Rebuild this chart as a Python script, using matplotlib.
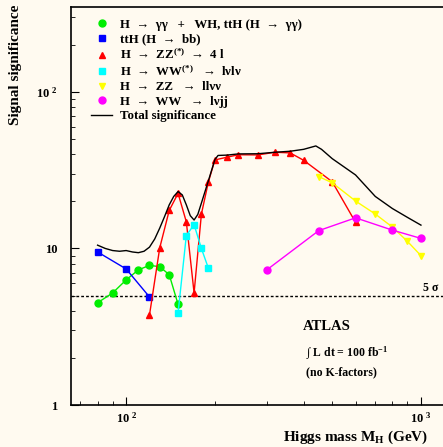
import matplotlib
matplotlib.use("Agg")
import matplotlib.pyplot as plt
from matplotlib.ticker import FixedLocator, NullFormatter

plt.rcParams['font.family'] = ['Liberation Serif', 'DejaVu Serif']
plt.rcParams['font.weight'] = 'bold'
plt.rcParams['mathtext.fontset'] = 'custom'
plt.rcParams['mathtext.rm'] = 'Liberation Serif:bold'
plt.rcParams['mathtext.it'] = 'Liberation Serif:bold'
plt.rcParams['mathtext.bf'] = 'Liberation Serif:bold'

# data (Higgs mass in GeV, signal significance)
m_gg = [80, 90, 100, 110, 120, 130, 140, 150]
s_gg = [4.5, 5.2, 6.3, 7.3, 7.8, 7.65, 6.8, 4.4]

m_tth = [80, 100, 120]
s_tth = [9.5, 7.4, 4.9]

m_zz4l = [120, 130, 140, 150, 160, 170, 180, 190, 200, 220, 240, 280, 320, 360, 400, 500, 600]
s_zz4l = [3.76, 10.1, 17.5, 22.5, 14.8, 5.2, 16.6, 26.5, 36.8, 38.3, 39.7, 39.6, 41.2, 40.8, 36.6, 26.7, 14.7]

m_ww = [150, 160, 170, 180, 190]
s_ww = [3.87, 12.1, 14.2, 10.0, 7.5]

m_llnn = [450, 500, 600, 700, 800, 900, 1000]
s_llnn = [28.8, 26.3, 20.1, 16.6, 13.7, 11.1, 9.0]

m_lnjj = [300, 450, 600, 800, 1000]
s_lnjj = [7.3, 13.0, 15.7, 13.1, 11.6]

m_tot = [80, 85, 90, 95, 100, 105, 110, 115, 120, 125, 130, 135, 140, 145, 150, 155, 160,
         165, 170, 175, 180, 190, 200, 205, 220, 240, 280, 320, 360, 400, 440, 460, 500,
         600, 700, 800, 900, 1000]
s_tot = [10.5, 10.0, 9.7, 9.6, 9.7, 9.5, 9.4, 9.6, 10.2, 11.5, 13.5, 16.0, 19.0, 21.5, 23.1, 22.0, 19.0,
         16.2, 15.2, 16.5, 19.5, 27.0, 37.0, 39.3, 39.5, 40.2, 40.3, 41.2, 41.8, 43.0, 45.2, 43.0, 37.5,
         29.5, 21.5, 18.0, 15.8, 14.1]

bg = '#fffaf0'
fig = plt.figure(figsize=(4.43, 4.47), dpi=100, facecolor=bg)
ax = fig.add_axes([71 / 443, 42 / 447, 372 / 443, 398 / 447], facecolor=bg)

ax.set_xscale('log')
ax.set_yscale('log')
ax.set_xlim(65, 1188)
ax.set_ylim(1, 349)

ax.axhline(5, color='black', lw=1.0, ls=(0, (2, 1.5)))
ax.text(1016, 5.1, r'5 σ', fontsize=8.5, ha='left', va='bottom')

ax.plot(m_gg, s_gg, '-o', color='#00ee00', ms=5, lw=1.0,
        label='H  →  γγ   +   WH, ttH (H  →  γγ)')
ax.plot(m_tth, s_tth, '-s', color='#0000ff', ms=4.5, lw=1.0,
        label='ttH (H  →  bb)')
ax.plot(m_zz4l, s_zz4l, '-^', color='#ff0000', ms=4.5, lw=1.0,
        label=r'H  →  ZZ$^{(*)}$  →  4 l')
ax.plot(m_ww, s_ww, '-s', color='#00ffff', ms=5, lw=1.0,
        label=r'H  →  WW$^{(*)}$   →  lνlν')
ax.plot(m_llnn, s_llnn, '-v', color='#ffff00', ms=4.5, lw=1.0,
        label='H  →  ZZ   →  llνν')
ax.plot(m_lnjj, s_lnjj, '-o', color='#ff00ff', ms=5, lw=1.0,
        label='H  →  WW   →  lνjj')
ax.plot(m_tot, s_tot, '-', color='black', lw=1.0, label='Total significance')

handles, labels = ax.get_legend_handles_labels()
mk_handles = []
for h in handles[:6]:
    hh = plt.Line2D([], [], ls='none', marker=h.get_marker(), color=h.get_color(), ms=h.get_markersize())
    mk_handles.append(hh)
mk_handles.append(handles[6])
leg = ax.legend(mk_handles, labels, loc='upper left', bbox_to_anchor=(0.055, 0.97),
                frameon=False, fontsize=9.3, handlelength=1.6, handletextpad=0.6,
                labelspacing=0.18, borderpad=0, borderaxespad=0)

ax.text(0.624, 0.198, 'ATLAS', transform=ax.transAxes, fontsize=10.5, va='center', ha='left')
ax.text(0.632, 0.131, r'∫ L dt = 100 fb$^{-1}$', transform=ax.transAxes, fontsize=8.5,
        va='center', ha='left')
ax.text(0.632, 0.083, '(no K-factors)', transform=ax.transAxes, fontsize=8.5,
        va='center', ha='left')

ax.set_xticks([100, 1000], labels=[r'$10^{\ 2}$', r'$10^{\ 3}$'])
ax.set_yticks([1, 10, 100], labels=['1', '10', r'$10^{\ 2}$'])
ax.xaxis.set_minor_locator(FixedLocator([70, 80, 90, 200, 300, 400, 500, 600, 700, 800, 900]))
ax.yaxis.set_minor_locator(FixedLocator([2, 3, 4, 5, 6, 7, 8, 9, 20, 30, 40, 50, 60, 70, 80, 90, 200, 300]))
ax.xaxis.set_minor_formatter(NullFormatter())
ax.yaxis.set_minor_formatter(NullFormatter())
ax.tick_params(which='both', direction='in', top=False, right=False, labelsize=9)
ax.tick_params(axis='x', which='major', length=6, pad=4)
ax.tick_params(axis='y', which='major', length=6, pad=10)
ax.tick_params(which='minor', length=3)

ax.spines['right'].set_visible(False)
for s in ['left', 'bottom', 'top']:
    ax.spines[s].set_linewidth(1.2)

fig.text(15 / 443, 1 - 5 / 447, 'Signal significance', rotation=90, ha='center', va='top',
         fontsize=11)
fig.text(428 / 443, 1 - 437 / 447, r'Higgs mass M$_{\rm H}$ (GeV)', ha='right', va='center',
         fontsize=11)

fig.savefig('out.png', dpi=100, facecolor=bg)
